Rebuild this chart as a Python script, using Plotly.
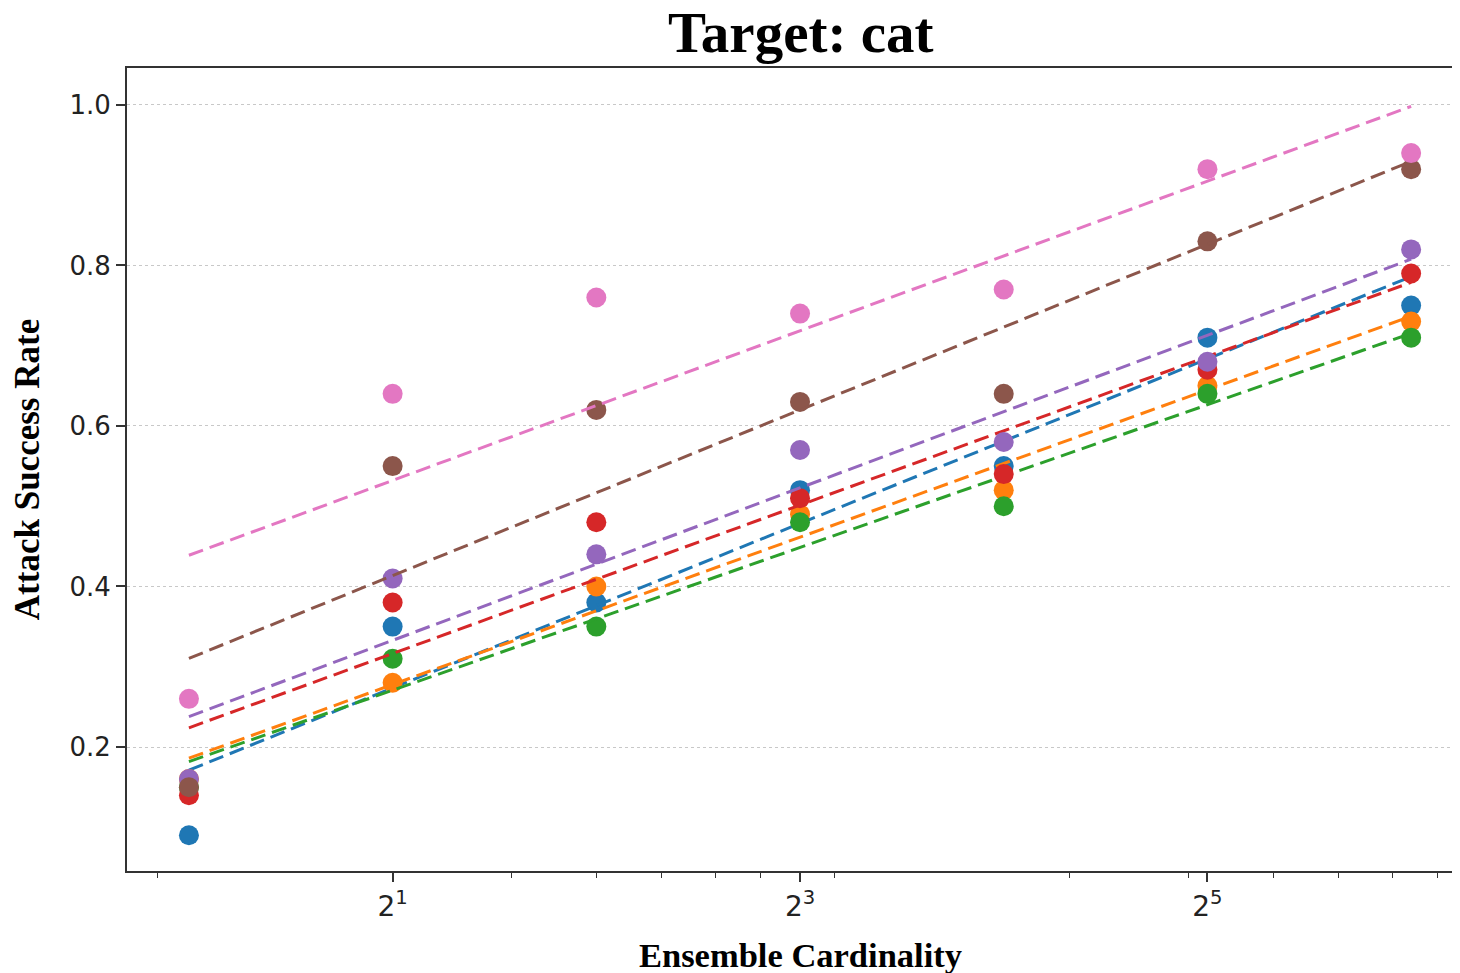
import numpy as np
import plotly.graph_objects as go

# Ensemble cardinality (x values)
cardinality = [1, 2, 4, 8, 16, 32, 64]

# Attack success rate per series
series_names = ["Series 1", "Series 2", "Series 3", "Series 4", "Series 5", "Series 6", "Series 7"]
blue_vals   = [0.09, 0.35, 0.38, 0.52, 0.55, 0.71, 0.75]
orange_vals = [0.16, 0.28, 0.40, 0.49, 0.52, 0.65, 0.73]
green_vals  = [0.15, 0.31, 0.35, 0.48, 0.50, 0.64, 0.71]
red_vals    = [0.14, 0.38, 0.48, 0.51, 0.54, 0.67, 0.79]
purple_vals = [0.16, 0.41, 0.44, 0.57, 0.58, 0.68, 0.82]
brown_vals  = [0.15, 0.55, 0.62, 0.63, 0.64, 0.83, 0.92]
pink_vals   = [0.26, 0.64, 0.76, 0.74, 0.77, 0.92, 0.94]

colors = ["#1f77b4", "#ff7f0e", "#2ca02c", "#d62728", "#9467bd", "#8c564b", "#e377c2"]
all_vals = [blue_vals, orange_vals, green_vals, red_vals, purple_vals, brown_vals, pink_vals]

# Axis tick definitions
x_major_ticks = [2, 8, 32]
x_major_labels = ["2<sup>1</sup>", "2<sup>3</sup>", "2<sup>5</sup>"]
x_minor_ticks = [0.9, 2, 3, 4, 5, 6, 7, 8, 9, 20, 30, 40, 50, 60, 70]
y_ticks = [0.2, 0.4, 0.6, 0.8, 1.0]
y_labels = ["0.2", "0.4", "0.6", "0.8", "1.0"]

fig = go.Figure()
lx = np.log2(np.array(cardinality, dtype=float))
for name, vals, c in zip(series_names, all_vals, colors):
    fig.add_trace(go.Scatter(
        x=cardinality, y=vals, mode="markers", name=name,
        marker=dict(color=c, size=20, line=dict(width=0)), showlegend=False))
    slope, intercept = np.polyfit(lx, np.array(vals), 1)
    fit = slope * lx + intercept
    fig.add_trace(go.Scatter(
        x=cardinality, y=fit, mode="lines", name=name + " fit",
        line=dict(color=c, width=3, dash="15px,7px"), showlegend=False))

xmin_l2, xmax_l2 = -0.304, 6.235
fig.update_layout(
    width=1460, height=973,
    paper_bgcolor="white", plot_bgcolor="white",
    margin=dict(l=119, r=9, t=60, b=110, autoexpand=False),
    title=dict(text="<b>Target: cat</b>", x=0.543, xanchor="center", y=0.975, yanchor="middle",
               font=dict(family="Liberation Serif", size=57, color="black")),
    xaxis=dict(
        type="log", automargin=False,
        range=[xmin_l2 * np.log10(2), xmax_l2 * np.log10(2)],
        tickmode="array", tickvals=x_major_ticks, ticktext=x_major_labels,
        ticks="outside", ticklen=9, tickwidth=1.5, tickcolor="#333",
        tickfont=dict(family="DejaVu Sans", size=28, color="#222"),
        showgrid=False, zeroline=False,
        showline=True, linecolor="#333", linewidth=2, mirror=True,
        minor=dict(tickmode="array", tickvals=x_minor_ticks, ticks="outside",
                   ticklen=5, tickwidth=1.2, tickcolor="#333", showgrid=False),
    ),
    yaxis=dict(
        automargin=False,
        range=[0.0455, 1.046],
        tickmode="array", tickvals=y_ticks, ticktext=y_labels,
        ticks="outside", ticklen=9, tickwidth=1.5, tickcolor="#333",
        tickfont=dict(family="DejaVu Sans", size=26, color="#222"),
        showgrid=True, gridcolor="#c8c8c8", gridwidth=1, griddash="3px,3px",
        zeroline=False,
        showline=True, linecolor="#333", linewidth=2, mirror=True,
        title=dict(text="<b>Attack Success Rate</b>", standoff=22,
                   font=dict(family="Liberation Serif", size=35, color="black")),
    ),
    annotations=[dict(
        text="<b>Ensemble Cardinality</b>", xref="paper", yref="paper",
        x=0.506, y=0, xanchor="center", yanchor="middle", yshift=-84,
        showarrow=False, font=dict(family="Liberation Serif", size=34.5, color="black"))],
)

fig.write_html("out.html")
